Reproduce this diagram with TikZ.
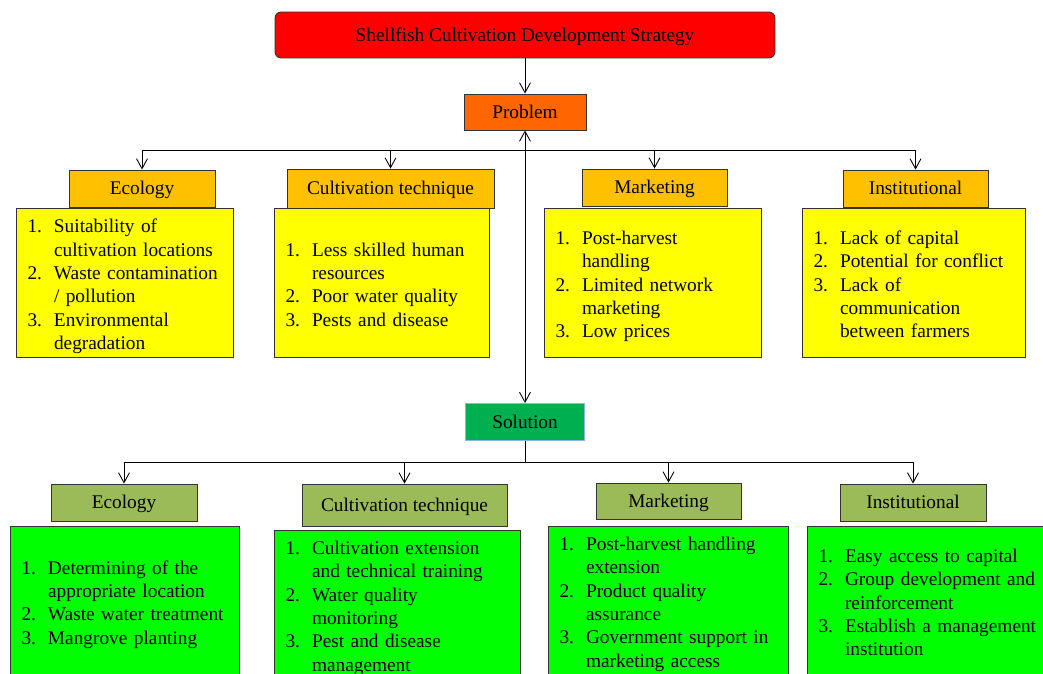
\documentclass[tikz,border=0pt]{standalone}
\usepackage{fontspec}
\setmainfont{Liberation Serif}
\usepackage{array}
\usetikzlibrary{arrows.meta}

\definecolor{tred}{HTML}{FF0000}
\definecolor{porange}{HTML}{FF6600}
\definecolor{pcat}{HTML}{FFC000}
\definecolor{plist}{HTML}{FFFF00}
\definecolor{sgreen}{HTML}{00B050}
\definecolor{sedge}{HTML}{8EB4E3}
\definecolor{scat}{HTML}{9BBB59}
\definecolor{slist}{HTML}{00FF00}

\newcommand{\items}[2][0.08cm]{\raisebox{-#1}[\height][\depth]{\begin{tabular}{@{}p{0.53cm}@{}l@{}}#2\end{tabular}}}

\begin{document}
\begin{tikzpicture}[x=0.02cm,y=-0.02cm,
  font=\fontsize{11}{13.3}\selectfont,
  >={Straight Barb[length=2mm,width=2.2mm]},
  box/.style={draw=black!80, line width=0.5pt, inner sep=0pt},
  one/.style={box, text height=7pt, text depth=0pt},
  cat/.style={one, minimum height=0.74cm},
  lst/.style={box, align=left, inner xsep=0.23cm, inner ysep=0.05cm},
  line width=0.5pt]

\useasboundingbox (0,0) rectangle (1043,673);
\clip (0,0) rectangle (1043,673);

\node(t) at (525,35) [one, fill=tred, rounded corners=1.2mm, minimum width=10cm, minimum height=0.92cm] {Shellfish Cultivation Development Strategy};
\node(p) at (525,112) [one, fill=porange, minimum width=2.44cm, minimum height=0.72cm] {Problem};
\node(s) at (525,422) [one, draw=sedge, fill=sgreen, minimum width=2.38cm, minimum height=0.74cm] {Solution};

% problem
\node(pe) at (142,188.5) [cat, fill=pcat, minimum width=2.92cm] {Ecology};
\node(pc) at (390.5,188.5) [cat, fill=pcat, minimum width=4.14cm, minimum height=0.78cm] {Cultivation technique};
\node(pm) at (654.5,187.5) [cat, fill=pcat, minimum width=2.9cm] {Marketing};
\node(pi) at (915.5,188.5) [cat, fill=pcat, minimum width=2.9cm] {Institutional};

\node(pel) at (124.5,282.5) [lst, fill=plist, text width=3.88cm, minimum height=2.98cm] {\items{1. & Suitability of\\ & cultivation locations\\ 2. & Waste contamination\\ & / pollution\\ 3. & Environmental\\ & degradation}};
\node(pcl) at (381.5,282.5) [lst, fill=plist, text width=3.84cm, minimum height=2.98cm] {\items{1. & Less skilled human\\ & resources\\ 2. & Poor water quality\\ 3. & Pests and disease}};
\node(pml) at (652.5,282.5) [lst, fill=plist, text width=3.88cm, minimum height=2.98cm] {\items{1. & Post-harvest\\ & handling\\ 2. & Limited network\\ & marketing\\ 3. & Low prices}};
\node(pil) at (913.5,282.5) [lst, fill=plist, text width=4cm, minimum height=2.98cm] {\items{1. & Lack of capital\\ 2. & Potential for conflict\\ 3. & Lack of\\ & communication\\ & between farmers}};

% solution
\node(se) at (124,502.5) [cat, fill=scat, minimum width=2.92cm] {Ecology};
\node(sc) at (404.5,505) [cat, fill=scat, minimum width=4.1cm, minimum height=0.84cm] {Cultivation technique};
\node(sm) at (668.5,501) [cat, fill=scat, minimum width=2.9cm, minimum height=0.72cm] {Marketing};
\node(si) at (913,502.5) [cat, fill=scat, minimum width=2.92cm] {Institutional};

\node(sel) at (124.5,602.5) [lst, fill=slist, text width=4.12cm, minimum height=3.06cm] {\items[0.04cm]{1. & Determining of the\\ & appropriate location\\ 2. & Waste water treatment\\ 3. & Mangrove planting}};
\node(scl) at (397,606) [lst, fill=slist, text width=4.46cm, minimum height=3.04cm] {\items[0.04cm]{1. & Cultivation extension\\ & and technical training\\ 2. & Water quality\\ & monitoring\\ 3. & Pest and disease\\ & management}};
\node(sml) at (668,602) [lst, fill=slist, text width=4.34cm, minimum height=3.04cm] {\items[0.04cm]{1. & Post-harvest handling\\ & extension\\ 2. & Product quality\\ & assurance\\ 3. & Government support in\\ & marketing access}};
\node(sil) at (926,602.5) [lst, fill=slist, text width=4.3cm, minimum height=3.06cm] {\items[0.04cm]{1. & Easy access to capital\\ 2. & Group development and\\ & reinforcement\\ 3. & Establish a management\\ & institution}};

\coordinate(pb) at (525,150);
\coordinate(sb) at (525,462);

\draw[->] (t) -- (p);
\draw[<->] (p) -- (s);
\draw[->] (pb) -| (pe);
\draw[->] (pb) -| (pc);
\draw[->] (pb) -| (pm);
\draw[->] (pb) -| (pi);
\draw (s) -- (sb);
\draw[->] (sb) -| (se);
\draw[->] (sb) -| (sc);
\draw[->] (sb) -| (sm);
\draw[->] (sb) -| (si);

\end{tikzpicture}
\end{document}
